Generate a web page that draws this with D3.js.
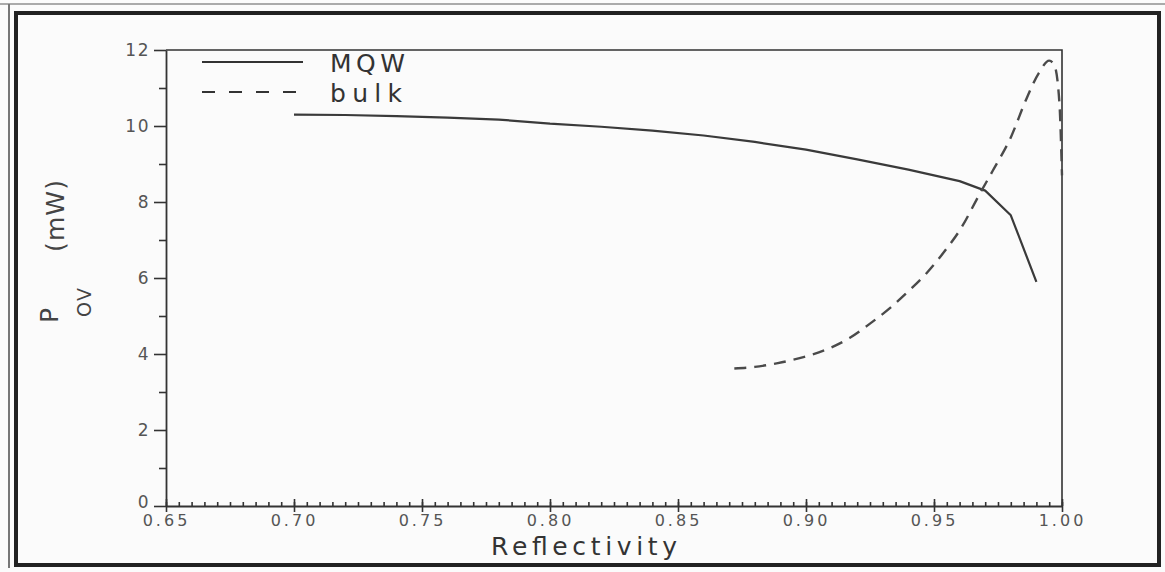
<!DOCTYPE html>
<html>
<head>
<meta charset="utf-8">
<script src="https://cdn.jsdelivr.net/npm/d3@7"></script>
<style>
  html, body { margin: 0; padding: 0; background: #fbfbfb; }
  svg { display: block; }
</style>
</head>
<body>
<svg id="chart" width="1165" height="572"></svg>
<script>
// Over-threshold power versus facet reflectivity for MQW and bulk lasers
const reflectivityMQW = [0.70, 0.72, 0.74, 0.76, 0.78, 0.80, 0.82, 0.84, 0.86, 0.88,
                         0.90, 0.92, 0.94, 0.95, 0.96, 0.97, 0.98, 0.99];
const powerMQW        = [10.30, 10.29, 10.26, 10.22, 10.17, 10.06, 9.98, 9.88, 9.75, 9.58,
                         9.38, 9.12, 8.85, 8.70, 8.55, 8.30, 7.65, 5.90];

const reflectivityBulk = [0.872, 0.880, 0.889, 0.899, 0.908, 0.917, 0.925, 0.933, 0.940, 0.947,
                          0.955, 0.960, 0.968, 0.973, 0.980, 0.986, 0.991, 0.995, 0.997, 0.999, 1.000];
const powerBulk        = [3.62, 3.66, 3.76, 3.92, 4.12, 4.42, 4.80, 5.22, 5.65, 6.12,
                          6.78, 7.25, 8.23, 8.83, 9.70, 10.70, 11.40, 11.72, 11.60, 10.60, 8.70];

const xTickValues = [0.65, 0.70, 0.75, 0.80, 0.85, 0.90, 0.95, 1.00];
const yTickValues = [0, 2, 4, 6, 8, 10, 12];
const seriesNames = ["MQW", "bulk"];

const svg = d3.select("#chart");

// outer frame of the figure
svg.append("line").attr("x1", 0).attr("x2", 1165).attr("y1", 4).attr("y2", 4)
  .attr("stroke", "#aaa").attr("stroke-width", 2);
svg.append("line").attr("x1", 9).attr("x2", 9).attr("y1", 4).attr("y2", 568)
  .attr("stroke", "#777").attr("stroke-width", 2);
svg.append("rect").attr("x", 16).attr("y", 13).attr("width", 1143).attr("height", 552)
  .attr("fill", "none").attr("stroke", "#222").attr("stroke-width", 4);

const x = d3.scaleLinear().domain([0.65, 1.0]).range([166, 1062]);
const y = d3.scaleLinear().domain([0, 12]).range([506, 50]);

const axisColor = "#333";
const tickFont = "DejaVu Sans, Liberation Sans, sans-serif";

// plot box: top and right edges
svg.append("path")
  .attr("d", `M${x(0.65)},${y(12)}H${x(1.0)}V${y(0)}`)
  .attr("fill", "none").attr("stroke", axisColor).attr("stroke-width", 1.6);

// x axis: minor ticks every 0.005 pointing inward
const xMinor = d3.range(0, 71).map(i => 0.65 + i * 0.005);
svg.append("g").attr("transform", `translate(0,${y(0)})`)
  .call(d3.axisBottom(x).tickValues(xMinor).tickSize(-4).tickSizeOuter(0).tickFormat(""))
  .call(g => g.select(".domain").remove())
  .call(g => g.selectAll("line").attr("stroke", axisColor).attr("stroke-width", 1.6));

// x axis: major ticks crossing the axis line, with labels
const xAxisG = svg.append("g").attr("transform", `translate(0,${y(0)})`)
  .call(d3.axisBottom(x).tickValues(xTickValues).tickSize(6).tickSizeOuter(0)
        .tickFormat(d3.format(".2f")));
xAxisG.select(".domain").attr("stroke", axisColor).attr("stroke-width", 1.8);
xAxisG.selectAll(".tick line").attr("y1", -7).attr("y2", 6)
  .attr("stroke", axisColor).attr("stroke-width", 1.6);
xAxisG.selectAll(".tick text")
  .attr("y", 9).attr("dy", "0.71em")
  .attr("font-family", tickFont).attr("font-size", 16)
  .attr("letter-spacing", 3).attr("fill", "#555");

// y axis: minor ticks at odd values
svg.append("g").attr("transform", `translate(${x(0.65)},0)`)
  .call(d3.axisLeft(y).tickValues(d3.range(1, 12, 2)).tickSize(7).tickSizeOuter(0).tickFormat(""))
  .call(g => g.select(".domain").remove())
  .call(g => g.selectAll("line").attr("stroke", axisColor).attr("stroke-width", 1.6));

// y axis: major ticks and labels
const yAxisG = svg.append("g").attr("transform", `translate(${x(0.65)},0)`)
  .call(d3.axisLeft(y).tickValues(yTickValues).tickSize(12).tickSizeOuter(0).tickPadding(4));
yAxisG.select(".domain").attr("stroke", axisColor).attr("stroke-width", 1.8);
yAxisG.selectAll(".tick line").attr("stroke", axisColor).attr("stroke-width", 1.6);
yAxisG.selectAll(".tick text")
  .attr("dy", d => d === 0 ? "0.1em" : "0.32em")
  .attr("font-family", tickFont).attr("font-size", 17)
  .attr("letter-spacing", 1.5).attr("fill", "#555");

// axis titles
const titleFont = "DejaVu Sans, Liberation Sans, sans-serif";
svg.append("text")
  .attr("x", 584).attr("y", 555).attr("text-anchor", "middle")
  .attr("font-family", titleFont).attr("font-size", 25)
  .attr("textLength", 186).attr("lengthAdjust", "spacing")
  .attr("fill", "#333").text("Reflectivity");

svg.append("text")
  .attr("transform", "translate(58,323) rotate(-90)")
  .attr("font-family", titleFont).attr("font-size", 25).attr("fill", "#444")
  .text("P");
svg.append("text")
  .attr("transform", "translate(91,317) rotate(-90)")
  .attr("font-family", titleFont).attr("font-size", 19).attr("fill", "#444")
  .attr("textLength", 29).attr("lengthAdjust", "spacing")
  .text("OV");
svg.append("text")
  .attr("transform", "translate(64,252) rotate(-90)")
  .attr("font-family", titleFont).attr("font-size", 25).attr("fill", "#444")
  .attr("textLength", 72).attr("lengthAdjust", "spacing")
  .text("(mW)");

// curves
const lineGen = d3.line().x(d => x(d[0])).y(d => y(d[1])).curve(d3.curveMonotoneX);
const mqw = reflectivityMQW.map((r, i) => [r, powerMQW[i]]);
const bulk = reflectivityBulk.map((r, i) => [r, powerBulk[i]]);

svg.append("path").datum(mqw)
  .attr("d", d3.line().x(d => x(d[0])).y(d => y(d[1])))
  .attr("fill", "none").attr("stroke", "#3a3a3a").attr("stroke-width", 2.2)
  .attr("stroke-linejoin", "round");

svg.append("path").datum(bulk)
  .attr("d", lineGen)
  .attr("fill", "none").attr("stroke", "#4a4a4a").attr("stroke-width", 2.4)
  .attr("stroke-dasharray", "12,8");

// legend
const legendStyles = [
  { dash: null, y: 62, len: 75 },
  { dash: "13,14", y: 92, len: 72 }
];
seriesNames.forEach((name, i) => {
  const s = legendStyles[i];
  svg.append("line")
    .attr("x1", 202).attr("x2", 303).attr("y1", s.y).attr("y2", s.y)
    .attr("stroke", "#333").attr("stroke-width", 2.2)
    .attr("stroke-dasharray", s.dash);
  svg.append("text")
    .attr("x", 330).attr("y", s.y + 10)
    .attr("font-family", titleFont).attr("font-size", 25).attr("fill", "#333")
    .attr("textLength", s.len).attr("lengthAdjust", "spacing")
    .text(name);
});
</script>
</body>
</html>
